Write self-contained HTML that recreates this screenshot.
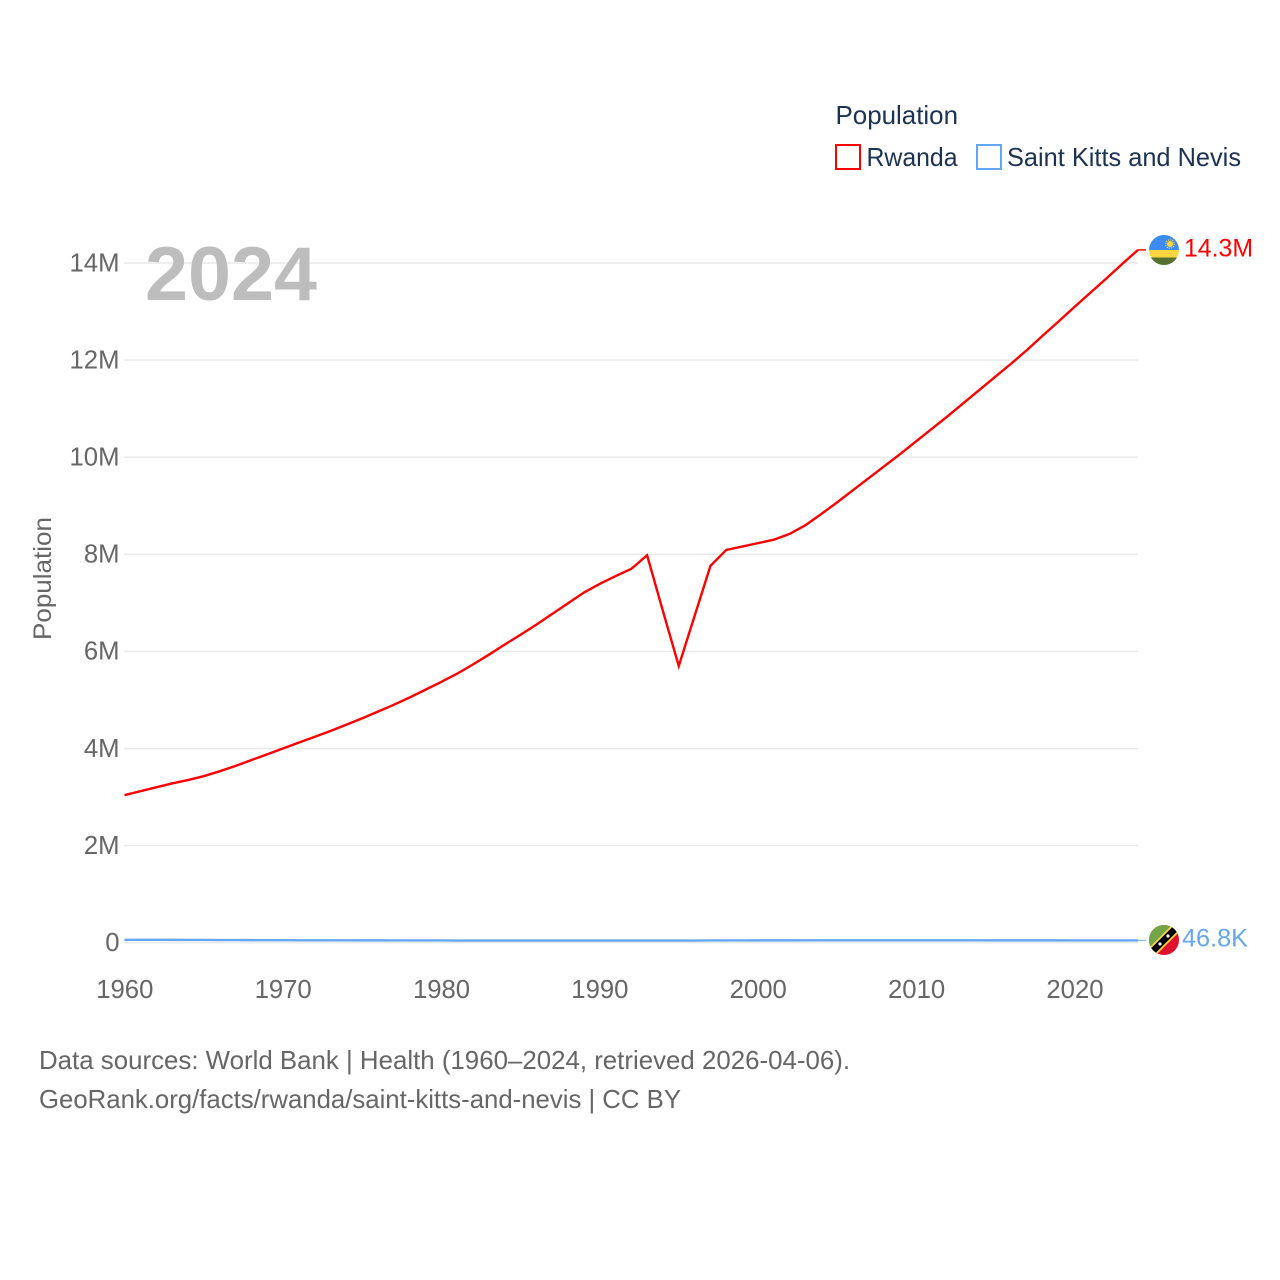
<!DOCTYPE html>
<html lang="en">
<head>
<meta charset="utf-8">
<title>Population: Rwanda and Saint Kitts and Nevis</title>
<style>
html,body{margin:0;padding:0;background:#fff;}
svg{display:block;font-family:"Liberation Sans",sans-serif;}
</style>
</head>
<body>
<svg id="chart" xmlns="http://www.w3.org/2000/svg" width="1280" height="1280" viewBox="0 0 1280 1280">
  <defs>
    <clipPath id="flag-clip-a"><circle cx="1164" cy="250" r="15"/></clipPath>
    <clipPath id="flag-clip-b"><circle cx="1164" cy="940" r="15"/></clipPath>
  </defs>
  <rect x="0" y="0" width="1280" height="1280" fill="#ffffff"/>
  <g id="grid"></g>
  <g id="y-ticks"></g>
  <g id="x-ticks"></g>
  <text transform="translate(51,640) rotate(-90)" font-size="25" fill="#666666" textLength="123" lengthAdjust="spacingAndGlyphs">Population</text>
  <text x="145" y="300" font-size="76" font-weight="700" fill="#bdbdbd" textLength="172" lengthAdjust="spacingAndGlyphs">2024</text>
  <g id="series"></g>

  <g clip-path="url(#flag-clip-a)">
    <rect x="1149" y="235" width="30" height="15" fill="#3b8bf0"/>
    <rect x="1149" y="250" width="30" height="7.5" fill="#fdd53f"/>
    <rect x="1149" y="257.5" width="30" height="7.5" fill="#55702f"/>
    <circle cx="1170" cy="244" r="3" fill="#fdd53f"/>
    <circle cx="1170" cy="244" r="4.2" fill="none" stroke="#fdd53f" stroke-width="1.2" stroke-dasharray="1.2 1"/>
  </g>
  <g clip-path="url(#flag-clip-b)">
    <rect x="1149" y="925" width="30" height="30" fill="#e0102f"/>
    <polygon points="1149,925 1179,925 1149,955" fill="#72a546"/>
    <line x1="1150" y1="954" x2="1178" y2="926" stroke="#fdd53f" stroke-width="10"/>
    <line x1="1150" y1="954" x2="1178" y2="926" stroke="#000000" stroke-width="6.5"/>
    <circle cx="1160" cy="944" r="1.6" fill="#ffffff"/>
    <circle cx="1168" cy="936" r="1.6" fill="#ffffff"/>
  </g>

  <text id="label-a" x="1184" y="256.5" font-size="25" fill="#ff0000" textLength="69" lengthAdjust="spacingAndGlyphs"></text>
  <text id="label-b" x="1182" y="946.5" font-size="25" fill="#64a7f0" textLength="66" lengthAdjust="spacingAndGlyphs"></text>

  <g>
    <text x="835.5" y="124" font-size="26" fill="#1b3252" textLength="122.5" lengthAdjust="spacingAndGlyphs">Population</text>
    <g>
      <rect x="836" y="145" width="24" height="24" fill="#ffffff" stroke="#ff0000" stroke-width="2"/>
      <text x="866.5" y="166" font-size="26" fill="#1b3252" textLength="91" lengthAdjust="spacingAndGlyphs">Rwanda</text>
    </g>
    <g>
      <rect x="977" y="145" width="24" height="24" fill="#ffffff" stroke="#64a7f0" stroke-width="2"/>
      <text x="1007" y="166" font-size="26" fill="#1b3252" textLength="234" lengthAdjust="spacingAndGlyphs">Saint Kitts and Nevis</text>
    </g>
  </g>

  <text x="39" y="1069" font-size="26" fill="#666666" textLength="811" lengthAdjust="spacingAndGlyphs">Data sources: World Bank | Health (1960–2024, retrieved 2026-04-06).</text>
  <text x="39" y="1108" font-size="26" fill="#666666" textLength="642" lengthAdjust="spacingAndGlyphs">GeoRank.org/facts/rwanda/saint-kitts-and-nevis | CC BY</text>
</svg>
<script>
const startYear = 1960;
const rwandaMillions = [3.04,3.12,3.20,3.28,3.35,3.43,3.53,3.64,3.76,3.88,4.00,4.12,4.24,4.36,4.49,4.62,4.76,4.90,5.05,5.21,5.37,5.54,5.73,5.93,6.14,6.34,6.55,6.77,6.99,7.21,7.39,7.55,7.70,7.98,6.83,5.70,6.73,7.76,8.09,8.16,8.23,8.30,8.42,8.60,8.83,9.07,9.32,9.57,9.82,10.07,10.33,10.59,10.85,11.12,11.39,11.66,11.93,12.21,12.51,12.80,13.10,13.39,13.68,13.98,14.27];
const kittsMillions = [0.060,0.060,0.059,0.058,0.057,0.056,0.055,0.054,0.053,0.052,0.051,0.050,0.050,0.049,0.049,0.048,0.048,0.047,0.047,0.046,0.046,0.045,0.045,0.044,0.044,0.043,0.043,0.043,0.043,0.043,0.043,0.043,0.043,0.044,0.044,0.045,0.045,0.046,0.047,0.047,0.048,0.048,0.048,0.049,0.049,0.049,0.049,0.049,0.049,0.049,0.049,0.049,0.049,0.049,0.049,0.048,0.048,0.048,0.048,0.048,0.047,0.047,0.047,0.047,0.047];
const rwandaLabel = "14.3M";
const kittsLabel = "46.8K";
const yTickValues = [0,2,4,6,8,10,12,14];
const yTickLabels = ["0","2M","4M","6M","8M","10M","12M","14M"];
const xTickYears = [1960,1970,1980,1990,2000,2010,2020];

const NS = "http://www.w3.org/2000/svg";
const xOf = year => 124.5 + (year - 1960) * (1138 - 124.5) / 64;
const yOf = m => 942.7 - m * (942.7 - 263) / 14;

const grid = document.getElementById("grid");
const yTicks = document.getElementById("y-ticks");
const xTicks = document.getElementById("x-ticks");
const series = document.getElementById("series");

yTickValues.forEach((v, i) => {
  const line = document.createElementNS(NS, "line");
  
  
  line.setAttribute("x1", 124);
  line.setAttribute("x2", 1138);
  line.setAttribute("y1", yOf(v));
  line.setAttribute("y2", yOf(v));
  line.setAttribute("stroke", "#e9e9e9");
  line.setAttribute("stroke-width", 1.4);
  grid.appendChild(line);

  const label = document.createElementNS(NS, "text");
  
  
  label.setAttribute("x", 119.5);
  label.setAttribute("y", yOf(v) + 8.3);
  label.setAttribute("text-anchor", "end");
  label.setAttribute("font-size", 25.7);
  label.setAttribute("fill", "#666666");
  label.textContent = yTickLabels[i];
  yTicks.appendChild(label);
});

xTickYears.forEach(year => {
  const label = document.createElementNS(NS, "text");
  
  
  label.setAttribute("x", xOf(year) + 0.3);
  label.setAttribute("y", 998);
  label.setAttribute("text-anchor", "middle");
  label.setAttribute("font-size", 25.7);
  label.setAttribute("fill", "#666666");
  label.textContent = year;
  xTicks.appendChild(label);
});

function pointsFor(values) {
  return values.map((v, i) => xOf(startYear + i).toFixed(2) + "," + yOf(v).toFixed(2)).join(" ");
}

const rwandaLine = document.createElementNS(NS, "polyline");


rwandaLine.setAttribute("points", pointsFor(rwandaMillions));
rwandaLine.setAttribute("fill", "none");
rwandaLine.setAttribute("stroke", "#ff0000");
rwandaLine.setAttribute("stroke-width", 2.4);
rwandaLine.setAttribute("stroke-linejoin", "miter");
series.appendChild(rwandaLine);

const rwandaEnd = yOf(rwandaMillions[rwandaMillions.length - 1]);
const rwandaLeader = document.createElementNS(NS, "line");


rwandaLeader.setAttribute("x1", 1138);
rwandaLeader.setAttribute("x2", 1146);
rwandaLeader.setAttribute("y1", rwandaEnd);
rwandaLeader.setAttribute("y2", rwandaEnd);
rwandaLeader.setAttribute("stroke", "#ff0000");
rwandaLeader.setAttribute("stroke-width", 1.4);
series.appendChild(rwandaLeader);

const kittsLine = document.createElementNS(NS, "polyline");


kittsLine.setAttribute("points", pointsFor(kittsMillions));
kittsLine.setAttribute("fill", "none");
kittsLine.setAttribute("stroke", "#64a7f0");
kittsLine.setAttribute("stroke-width", 2.4);
series.appendChild(kittsLine);

const kittsEnd = yOf(kittsMillions[kittsMillions.length - 1]);
const kittsLeader = document.createElementNS(NS, "line");


kittsLeader.setAttribute("x1", 1138);
kittsLeader.setAttribute("x2", 1146);
kittsLeader.setAttribute("y1", kittsEnd);
kittsLeader.setAttribute("y2", kittsEnd);
kittsLeader.setAttribute("stroke", "#64a7f0");
kittsLeader.setAttribute("stroke-opacity", 0.7);
kittsLeader.setAttribute("stroke-width", 1.4);
series.appendChild(kittsLeader);

document.getElementById("label-a").textContent = rwandaLabel;
document.getElementById("label-b").textContent = kittsLabel;
</script>
</body>
</html>
